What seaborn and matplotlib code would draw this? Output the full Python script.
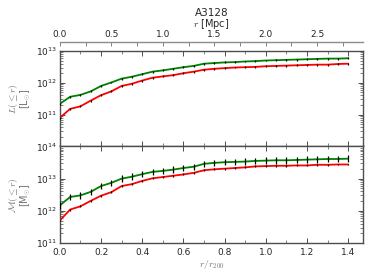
import numpy as np
import pandas as pd
import seaborn as sns
from matplotlib import pyplot as plt
from matplotlib.ticker import MultipleLocator, FixedLocator, LogLocator, NullFormatter

# radius in units of r200
r_r200 = [0.0, 0.05, 0.1, 0.15, 0.2, 0.25, 0.3, 0.35, 0.4, 0.45, 0.5, 0.55, 0.6, 0.65,
          0.7, 0.75, 0.8, 0.85, 0.9, 0.95, 1.0, 1.05, 1.1, 1.15, 1.2, 1.25, 1.3, 1.35, 1.4]
r200_mpc = 2.0
mpc_ticks = [0.0, 0.5, 1.0, 1.5, 2.0, 2.5]

# log10 of cumulative luminosity
logL_green = [11.34, 11.56, 11.62, 11.73, 11.90, 12.01, 12.13, 12.19, 12.27, 12.35, 12.39,
              12.44, 12.49, 12.53, 12.60, 12.62, 12.64, 12.65, 12.67, 12.68, 12.70, 12.71,
              12.72, 12.73, 12.74, 12.75, 12.76, 12.76, 12.77]
logL_red = [10.90, 11.18, 11.26, 11.44, 11.61, 11.73, 11.90, 11.97, 12.07, 12.16, 12.20,
            12.24, 12.30, 12.35, 12.41, 12.44, 12.46, 12.48, 12.49, 12.50, 12.52, 12.53,
            12.54, 12.55, 12.56, 12.57, 12.57, 12.59, 12.60]
# log10 of cumulative mass
logM_green = [12.17, 12.43, 12.48, 12.59, 12.77, 12.87, 13.00, 13.06, 13.14, 13.21, 13.24,
              13.28, 13.33, 13.37, 13.46, 13.49, 13.51, 13.52, 13.53, 13.55, 13.56, 13.57,
              13.57, 13.58, 13.59, 13.60, 13.61, 13.61, 13.62]
logM_red = [11.70, 12.04, 12.14, 12.31, 12.47, 12.58, 12.77, 12.83, 12.93, 13.01, 13.05,
            13.09, 13.13, 13.18, 13.26, 13.29, 13.31, 13.33, 13.35, 13.38, 13.39, 13.40,
            13.40, 13.41, 13.41, 13.43, 13.43, 13.44, 13.44]
# symmetric errors in dex
errL = 0.03
errM_green = 0.10
errM_red = 0.03

sns.set_style("ticks")
plt.rcParams['font.family'] = ['DejaVu Sans']
plt.rcParams['mathtext.fontset'] = 'cm'
plt.rcParams['font.size'] = 7

df = pd.DataFrame({
    "r": r_r200 * 4,
    "val": [10**v for v in logL_green + logL_red + logM_green + logM_red],
    "series": ["g"] * 29 + ["r"] * 29 + ["g"] * 29 + ["r"] * 29,
    "panel": ["L"] * 58 + ["M"] * 58,
})
pal = {"g": "#008000", "r": "#ff0000"}

fig = plt.figure(figsize=(3.74, 2.8), dpi=100)
ax1 = fig.add_axes([0.160, 0.477, 0.811, 0.341])
ax2 = fig.add_axes([0.160, 0.132, 0.811, 0.345], sharex=ax1)

for ax, panel, errs in [(ax1, "L", (errL, errL)), (ax2, "M", (errM_green, errM_red))]:
    sub = df[df.panel == panel]
    for s, e in zip(["g", "r"], errs):
        d = sub[sub.series == s]
        y = np.array(d.val)
        ax.errorbar(d.r, y, yerr=[y - y / 10**e, y * 10**e - y], fmt="none",
                    ecolor="black", elinewidth=0.9, capsize=0, zorder=3)
    sns.lineplot(data=sub, x="r", y="val", hue="series", palette=pal, ax=ax,
                 legend=False, linewidth=1.3, zorder=2)
    ax.set_yscale("log")
    ax.set_xlim(0, 1.473)
    ax.xaxis.set_major_locator(MultipleLocator(0.2))
    ax.xaxis.set_minor_locator(MultipleLocator(0.1))
    ax.yaxis.set_major_locator(LogLocator(base=10, numticks=10))
    ax.yaxis.set_minor_locator(LogLocator(base=10, subs=np.arange(2, 10), numticks=10))
    ax.yaxis.set_minor_formatter(NullFormatter())
    ax.tick_params(which="both", direction="in", top=True, right=True, labelsize=6.5,
                   color="0.3", pad=2)
    ax.tick_params(which="major", length=3.5, width=0.7)
    ax.tick_params(which="minor", length=2, width=0.5)
    for sp in ax.spines.values():
        sp.set_color("0.3")
        sp.set_linewidth(1.0)
    ax.set_xlabel("")

ax1.set_ylim(1e10, 1e13)
ax1.set_yticks([1e11, 1e12, 1e13])
ax1.tick_params(axis="x", labelbottom=False)
ax2.set_ylim(1e11, 1e14)
ax2.tick_params(axis="x", pad=3.5)

ax1.set_ylabel("$L(\\leq r)$\n[L$_{\\odot}$]", color="0.45", fontsize=7, linespacing=0.95)
ax2.set_ylabel("$\\mathcal{M}(\\leq r)$\n[M$_{\\odot}$]", color="0.45", fontsize=7,
               linespacing=0.95)
ax1.yaxis.set_label_coords(-0.088, 0.5)
ax2.yaxis.set_label_coords(-0.088, 0.5)
ax2.set_xlabel("$r/r_{200}$", color="0.45", fontsize=7, labelpad=0.5)

secax = ax1.secondary_xaxis(1.094, functions=(lambda x: x * r200_mpc, lambda x: x / r200_mpc))
secax.xaxis.set_major_locator(FixedLocator(mpc_ticks))
secax.xaxis.set_minor_locator(FixedLocator([t + 0.25 for t in mpc_ticks]))
secax.tick_params(which="both", direction="in", labelsize=6.5, color="0.5", pad=2)
secax.tick_params(which="major", length=3, width=0.7)
secax.tick_params(which="minor", length=3, width=0.7)
secax.spines["top"].set_color("0.55")
secax.spines["top"].set_linewidth(1.0)
secax.set_xlabel("$r$ [Mpc]", fontsize=7, labelpad=2)
fig.text(0.566, 0.952, "A3128", ha="center", va="center", fontsize=7.5)

fig.savefig("out.png", dpi=100)
